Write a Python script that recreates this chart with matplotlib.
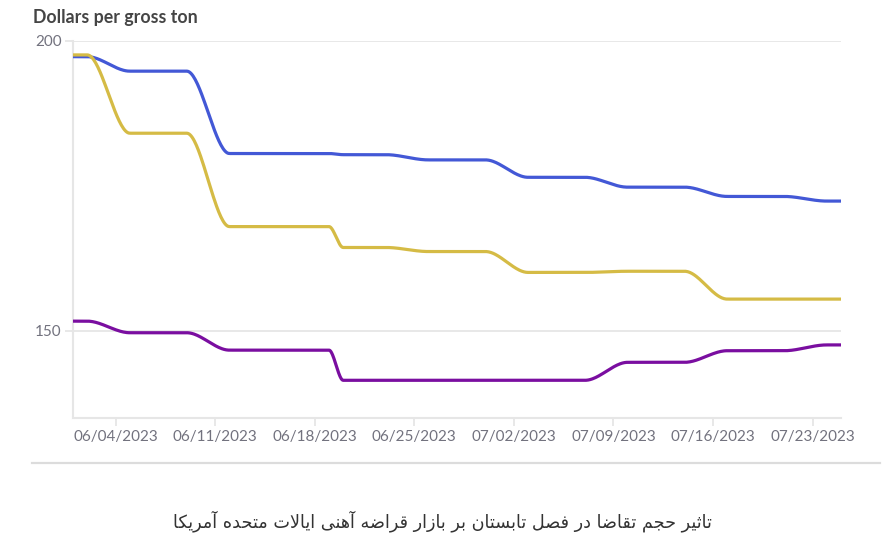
import numpy as np
import pandas as pd
import matplotlib
matplotlib.use("Agg")
import matplotlib.pyplot as plt
import matplotlib.dates as mdates
from matplotlib.lines import Line2D

# ── data (business days, $ per gross ton) ───────────────────────────────────
DATES = pd.bdate_range("2023-06-01", "2023-07-25")

BLUE = [197.3, 197.3,
        194.8, 194.8, 194.8, 194.8, 194.8,
        180.6, 180.6, 180.6, 180.6, 180.6,
        180.6, 180.4, 180.4, 180.4, 180.4,
        179.5, 179.5, 179.5, 179.5, 179.5,
        176.5, 176.5, 176.5, 176.5, 176.5,
        174.8, 174.8, 174.8, 174.8, 174.8,
        173.2, 173.2, 173.2, 173.2, 173.2,
        172.4, 172.4]
YELLOW = [197.6, 197.6,
          184.1, 184.1, 184.1, 184.1, 184.1,
          168.0, 168.0, 168.0, 168.0, 168.0,
          168.0, 164.4, 164.4, 164.4, 164.4,
          163.7, 163.7, 163.7, 163.7, 163.7,
          160.1, 160.1, 160.1, 160.1, 160.1,
          160.3, 160.3, 160.3, 160.3, 160.3,
          155.5, 155.5, 155.5, 155.5, 155.5,
          155.5, 155.5]
PURPLE = [151.7, 151.7,
          149.7, 149.7, 149.7, 149.7, 149.7,
          146.7, 146.7, 146.7, 146.7, 146.7,
          146.7, 141.5, 141.5, 141.5, 141.5,
          141.5, 141.5, 141.5, 141.5, 141.5,
          141.5, 141.5, 141.5, 141.5, 141.5,
          144.6, 144.6, 144.6, 144.6, 144.6,
          146.6, 146.6, 146.6, 146.6, 146.6,
          147.6, 147.6]

TICK_DATES = ["2023-06-04", "2023-06-11", "2023-06-18", "2023-06-25",
              "2023-07-02", "2023-07-09", "2023-07-16", "2023-07-23"]
Y_TICKS = [150, 200]

Y_LABEL = "Dollars per gross ton"
CAPTION = "تاثیر حجم تقاضا در فصل تابستان بر بازار قراضه آهنی ایالات متحده آمریکا"

COLORS = {
    "blue":   "#4358d6",
    "yellow": "#d5bb45",
    "purple": "#7a0ea0",
    "grid":   "#e6e6e6",
    "tick":   "#72727e",
    "title":  "#454545",
}


# ── tiny Persian shaper (matplotlib has no bidi / joining) ──────────────────
# forms: isolated, final, initial, medial
FORMS = {
    "ا": ("\uFE8D", "\uFE8E", None, None),
    "آ": ("\uFE81", "\uFE82", None, None),
    "د": ("\uFEA9", "\uFEAA", None, None),
    "ر": ("\uFEAD", "\uFEAE", None, None),
    "ز": ("\uFEAF", "\uFEB0", None, None),
    "ب": ("\uFE8F", "\uFE90", "\uFE91", "\uFE92"),
    "ت": ("\uFE95", "\uFE96", "\uFE97", "\uFE98"),
    "ث": ("\uFE99", "\uFE9A", "\uFE9B", "\uFE9C"),
    "ج": ("\uFE9D", "\uFE9E", "\uFE9F", "\uFEA0"),
    "ح": ("\uFEA1", "\uFEA2", "\uFEA3", "\uFEA4"),
    "س": ("\uFEB1", "\uFEB2", "\uFEB3", "\uFEB4"),
    "ص": ("\uFEB9", "\uFEBA", "\uFEBB", "\uFEBC"),
    "ض": ("\uFEBD", "\uFEBE", "\uFEBF", "\uFEC0"),
    "ف": ("\uFED1", "\uFED2", "\uFED3", "\uFED4"),
    "ق": ("\uFED5", "\uFED6", "\uFED7", "\uFED8"),
    "ل": ("\uFEDD", "\uFEDE", "\uFEDF", "\uFEE0"),
    "م": ("\uFEE1", "\uFEE2", "\uFEE3", "\uFEE4"),
    "ن": ("\uFEE5", "\uFEE6", "\uFEE7", "\uFEE8"),
    "ه": ("\uFEE9", "\uFEEA", "\uFEEB", "\uFEEC"),
    "ی": ("\uFBFC", "\uFBFD", "\uFBFE", "\uFBFF"),
    "ک": ("\uFB8E", "\uFB8F", "\uFB90", "\uFB91"),
}
LAM_ALEF = {"ا": ("\uFEFB", "\uFEFC"), "آ": ("\uFEF5", "\uFEF6")}


def shape_rtl(text):
    out = []
    i = 0
    n = len(text)
    while i < n:
        ch = text[i]
        if ch not in FORMS:
            out.append(ch)
            i += 1
            continue
        prev = text[i - 1] if i > 0 else ""
        joins_prev = prev in FORMS and FORMS[prev][2] is not None
        if ch == "ل" and i + 1 < n and text[i + 1] in LAM_ALEF:
            iso, fin = LAM_ALEF[text[i + 1]]
            out.append(fin if joins_prev else iso)
            i += 2
            continue
        nxt = text[i + 1] if i + 1 < n else ""
        joins_next = FORMS[ch][2] is not None and nxt in FORMS
        iso, fin, ini, med = FORMS[ch]
        if joins_prev and joins_next:
            out.append(med)
        elif joins_prev:
            out.append(fin)
        elif joins_next:
            out.append(ini)
        else:
            out.append(iso)
        i += 1
    return "".join(reversed(out))


# ── monotone cubic (like d3 curveMonotoneX) ─────────────────────────────────
def monotone_curve(x, y, per_seg=40):
    x = np.asarray(x, float)
    y = np.asarray(y, float)
    h = np.diff(x)
    s = np.diff(y) / h
    t = np.zeros_like(y)
    for i in range(1, len(x) - 1):
        p = (s[i - 1] * h[i] + s[i] * h[i - 1]) / (h[i - 1] + h[i])
        t[i] = (np.sign(s[i - 1]) + np.sign(s[i])) * min(
            abs(s[i - 1]), abs(s[i]), 0.5 * abs(p))
    t[0] = (3 * s[0] - t[1]) / 2
    t[-1] = (3 * s[-1] - t[-2]) / 2
    xs, ys = [], []
    for i in range(len(x) - 1):
        u = np.linspace(0, 1, per_seg, endpoint=False)
        h00 = 2 * u**3 - 3 * u**2 + 1
        h10 = u**3 - 2 * u**2 + u
        h01 = -2 * u**3 + 3 * u**2
        h11 = u**3 - u**2
        xs.append(x[i] + u * h[i])
        ys.append(h00 * y[i] + h10 * h[i] * t[i] + h01 * y[i + 1]
                  + h11 * h[i] * t[i + 1])
    xs.append([x[-1]])
    ys.append([y[-1]])
    return np.concatenate(xs), np.concatenate(ys)


# ── figure ───────────────────────────────────────────────────────────────────
fig = plt.figure(figsize=(8.93, 5.53), dpi=100)
fig.patch.set_facecolor("white")
ax = fig.add_axes([73 / 893, 1 - 418 / 553, (841 - 73) / 893, (418 - 41) / 553])

xnum = mdates.date2num(DATES)
for vals, key in [(BLUE, "blue"), (YELLOW, "yellow"), (PURPLE, "purple")]:
    cx, cy = monotone_curve(xnum, vals)
    ax.plot(cx, cy, color=COLORS[key], linewidth=2.3,
            solid_capstyle="butt", zorder=3)

ax.set_xlim(xnum[0], xnum[-1])
ax.set_ylim(135, 200)

ticks = mdates.date2num(pd.to_datetime(TICK_DATES))
ax.set_xticks(ticks)
ax.set_xticklabels([d.strftime("%m/%d/%Y") for d in pd.to_datetime(TICK_DATES)])
ax.set_yticks(Y_TICKS)
ax.set_yticklabels([str(v) for v in Y_TICKS])

ax.grid(axis="y", color=COLORS["grid"], linewidth=1.3, zorder=0)
ax.tick_params(axis="both", colors=COLORS["grid"], width=1.3, length=6,
               labelcolor=COLORS["tick"], labelsize=11)
ax.tick_params(axis="x", pad=3)
ax.tick_params(axis="y", pad=2)
for lab in ax.get_xticklabels() + ax.get_yticklabels():
    lab.set_fontfamily("Lato")

for side in ("top", "right"):
    ax.spines[side].set_visible(False)
for side in ("left", "bottom"):
    ax.spines[side].set_color(COLORS["grid"])
    ax.spines[side].set_linewidth(1.5)

fig.text(33 / 893, 1 - 17 / 553, Y_LABEL, fontsize=12.8, fontweight="bold",
         fontfamily="Lato", color=COLORS["title"], ha="left", va="center")

fig.add_artist(Line2D([32 / 893, 880 / 893], [1 - 463 / 553] * 2,
                      color="#dcdcdc", linewidth=1.6))

fig.text(442 / 893, 1 - 521 / 553, shape_rtl(CAPTION), fontsize=12.7,
         fontfamily=["DejaVu Sans"], color="#333333", ha="center", va="center")

fig.savefig("out.png", dpi=100, facecolor="white")
